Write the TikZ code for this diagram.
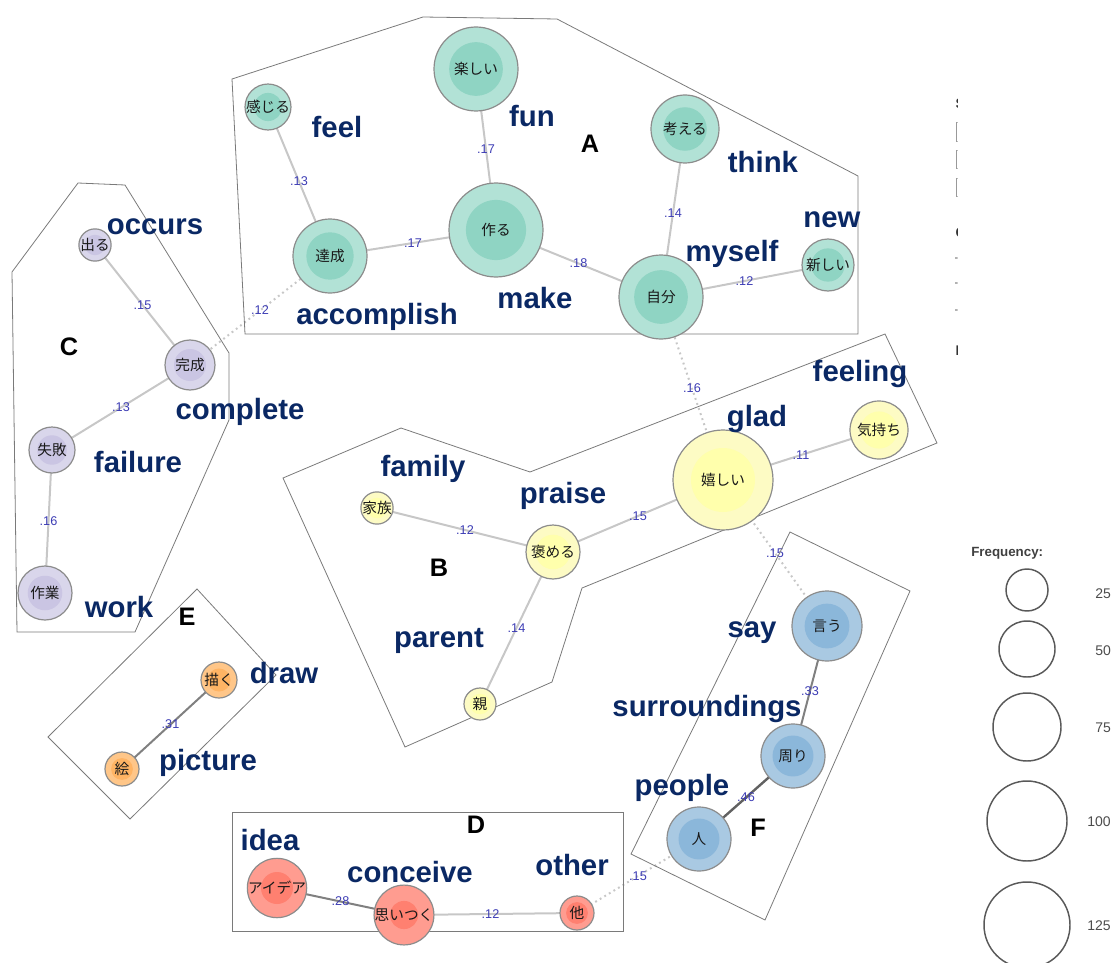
\documentclass[tikz,border=0pt]{standalone}
\usepackage{fontspec}
\setmainfont{Liberation Sans}
\newfontfamily\jpfont{Noto Sans CJK JP}
\usepackage{tikz}
\usetikzlibrary{backgrounds}

\definecolor{aout}{HTML}{B2E2D6}
\definecolor{ain}{HTML}{8FD4C3}
\definecolor{bout}{HTML}{FDFBC4}
\definecolor{bin}{HTML}{FFFFAC}
\definecolor{cout}{HTML}{D9D6EB}
\definecolor{cin}{HTML}{CAC5E3}
\definecolor{dout}{HTML}{FF9C90}
\definecolor{din}{HTML}{FF8070}
\definecolor{eout}{HTML}{FFC688}
\definecolor{ein}{HTML}{FFB464}
\definecolor{fout}{HTML}{A9C9E2}
\definecolor{fin}{HTML}{8BB7DA}
\definecolor{ring}{HTML}{8C8C8C}
\definecolor{navy}{HTML}{0A2864}
\definecolor{wtblue}{HTML}{3C3CB4}
\definecolor{hullgray}{HTML}{7A7A7A}

\tikzset{
  bubble/.style n args={3}{circle, draw=ring, line width=0.9pt, inner sep=0pt,
    fill=#1, minimum size=1.5*#3pt, text=black!90,
    font=\jpfont\fontsize{11}{13}\selectfont,
    path picture={\fill[#2] (path picture bounding box.center) circle [radius=0.48*#3pt];}},
  clA/.style={bubble={aout}{ain}{#1}},
  clB/.style={bubble={bout}{bin}{#1}},
  clC/.style={bubble={cout}{cin}{#1}},
  clD/.style={bubble={dout}{din}{#1}},
  clE/.style={bubble={eout}{ein}{#1}},
  clF/.style={bubble={fout}{fin}{#1}},
  gloss/.style={font=\bfseries\fontsize{22}{24}\selectfont, text=navy, inner sep=0pt},
  grp/.style={font=\bfseries\fontsize{19}{21}\selectfont, inner sep=0pt},
  wt/.style={font=\fontsize{9.5}{11}\selectfont, text=wtblue, inner sep=0pt},
  wk/.style={draw=black!22, line width=1.5pt},
  st/.style={draw=black!50, line width=1.5pt},
  xlink/.style={draw=black!22, line width=1.5pt, dash pattern=on 1.4pt off 2.6pt},
  hull/.style={draw=hullgray, line width=0.6pt},
  legring/.style={circle, draw=black!65, line width=1.1pt, inner sep=0pt, minimum size=1.5*#1pt},
  legtext/.style={font=\fontsize{10.5}{12}\selectfont, text=black!70, inner sep=0pt}
}

\begin{document}
\begin{tikzpicture}[x=0.75pt, y=-0.75pt]
  \useasboundingbox (0,0) rectangle (1117,963);

  % subgraph hulls
  \draw[hull] (245,334) -- (232,79) -- (423,17) -- (557,19) -- (858,176) -- (858,334) -- cycle;
  \draw[hull] (283,478) -- (401,428) -- (530,472) -- (885,334) -- (937,443) -- (582,588)
              -- (552,682) -- (405,747) -- cycle;
  \draw[hull] (78,183) -- (125,185) -- (229,353) -- (229,420) -- (135,632) -- (17,632)
              -- (12,272) -- cycle;
  \draw[hull] (232,812) rectangle (623,931);
  \draw[hull] (197,589) -- (276,675) -- (130,819) -- (48,737) -- cycle;
  \draw[hull] (790,532) -- (910,591) -- (765,920) -- (631,854) -- cycle;

  % group A
  \node[clA=42] (tanoshii)  at (476,69)  {楽しい};
  \node[clA=22] (kanjiru)   at (268,107) {感じる};
  \node[clA=34] (kangaeru)  at (685,129) {考える};
  \node[clA=47] (tsukuru)   at (496,230) {作る};
  \node[clA=37] (tassei)    at (330,256) {達成};
  \node[clA=42] (jibun)     at (661,297) {自分};
  \node[clA=26] (atarashii) at (828,265) {新しい};
  % group C
  \node[clC=16] (deru)    at (95,245)  {出る};
  \node[clC=25] (kansei)  at (190,365) {完成};
  \node[clC=23] (shippai) at (52,450)  {失敗};
  \node[clC=27] (sagyou)  at (45,593)  {作業};
  % group B
  \node[clB=16] (kazoku)  at (377,508) {家族};
  \node[clB=27] (homeru)  at (553,552) {褒める};
  \node[clB=50] (ureshii) at (723,480) {嬉しい};
  \node[clB=29] (kimochi) at (879,430) {気持ち};
  \node[clB=16] (oya)     at (480,704) {親};
  % group D
  \node[clD=25] (aidea)     at (277,888) {アイデア};
  \node[clD=22] (omoitsuku) at (404,915) {思いつく};
  \node[clD=17] (hoka)      at (577,913) {他};
  % group E
  \node[clE=18] (kaku)  at (219,680) {描く};
  \node[clE=17] (kaiga) at (122,769) {絵};
  % group F
  \node[clF=35] (iu)     at (827,626) {言う};
  \node[clF=32] (mawari) at (793,756) {周り};
  \node[clF=32] (hito)   at (699,839) {人};

  \begin{pgfonlayer}{background}
    \path (kanjiru.center) edge[wk] node[wt] {.13} (tassei.center)
          (tanoshii.center) edge[wk] node[wt] {.17} (tsukuru.center)
          (tassei.center) edge[wk] node[wt] {.17} (tsukuru.center)
          (tsukuru.center) edge[wk] node[wt] {.18} (jibun.center)
          (kangaeru.center) edge[wk] node[wt] {.14} (jibun.center)
          (jibun.center) edge[wk] node[wt] {.12} (atarashii.center)
          (deru.center) edge[wk] node[wt] {.15} (kansei.center)
          (kansei.center) edge[wk] node[wt] {.13} (shippai.center)
          (shippai.center) edge[wk] node[wt] {.16} (sagyou.center)
          (kazoku.center) edge[wk] node[wt] {.12} (homeru.center)
          (homeru.center) edge[wk] node[wt] {.15} (ureshii.center)
          (ureshii.center) edge[wk] node[wt] {.11} (kimochi.center)
          (homeru.center) edge[wk] node[wt] {.14} (oya.center)
          (aidea.center) edge[st] node[wt] {.28} (omoitsuku.center)
          (omoitsuku.center) edge[wk] node[wt] {.12} (hoka.center)
          (kaku.center) edge[st] node[wt] {.31} (kaiga.center)
          (iu.center) edge[st] node[wt] {.33} (mawari.center)
          (mawari.center) edge[st, draw=black!62, line width=1.8pt] node[wt] {.46} (hito.center);
    % links between groups
    \path (tassei.center) edge[xlink] node[wt] {.12} (kansei.center)
          (jibun.center) edge[xlink] node[wt] {.16} (ureshii.center)
          (ureshii.center) edge[xlink] node[wt] {.15} (iu.center)
          (hoka.center) edge[xlink] node[wt] {.15} (hito.center);
  \end{pgfonlayer}

  % glosses
  \node[gloss] (gfeel)   at (337,127) {feel};
  \node[gloss] (gfun)    at (532,116) {fun};
  \node[gloss] (gthink)  at (763,162) {think};
  \node[gloss] (gnew)    at (832,220) {new};
  \node[gloss] (gmyself) at (732,254) {myself};
  \node[gloss] (gaccomp) at (377,317) {accomplish};
  \node[gloss] (gmake)   at (535,298) {make};
  \node[gloss] (goccurs) at (155,227) {occurs};
  \node[gloss] (gcompl)  at (240,412) {complete};
  \node[gloss] (gfail)   at (138,462) {failure};
  \node[gloss] (gwork)   at (119,607) {work};
  \node[gloss] (gfamily) at (423,469) {family};
  \node[gloss] (gpraise) at (563,496) {praise};
  \node[gloss] (gparent) at (439,641) {parent};
  \node[gloss] (gglad)   at (757,419) {glad};
  \node[gloss] (gfeelg)  at (860,374) {feeling};
  \node[gloss] (gidea)   at (270,840) {idea};
  \node[gloss] (gconc)   at (410,872) {conceive};
  \node[gloss] (gother)  at (572,865) {other};
  \node[gloss] (gdraw)   at (284,673) {draw};
  \node[gloss] (gpict)   at (208,763) {picture};
  \node[gloss] (gsay)    at (752,633) {say};
  \node[gloss] (gsurr)   at (707,709) {surroundings};
  \node[gloss] (gpeople) at (682,788) {people};

  % group letters
  \node[grp] (lA) at (590,144) {A};
  \node[grp] (lB) at (439,568) {B};
  \node[grp] (lC) at (69,347)  {C};
  \node[grp] (lD) at (476,825) {D};
  \node[grp] (lE) at (187,617) {E};
  \node[grp] (lF) at (758,828) {F};

  % legend cut off at the right of the plot
  \begin{scope}
    \clip (940,90) rectangle (957.5,370);
    \node[anchor=west, font=\bfseries\fontsize{10.5}{12}\selectfont, text=black!80] (subg) at (951,105) {Subgraph:};
    \draw[black!40] (956,122) rectangle (990,141) (956,150) rectangle (990,168) (956,178) rectangle (990,196);
    \node[anchor=west, font=\bfseries\fontsize{10.5}{12}\selectfont, text=black!80] (coef) at (951,232) {Coefficient:};
    \draw[black!30, line width=1pt] (955,258) -- (990,258) (955,283) -- (990,283) (955,310) -- (990,310);
    \node[anchor=west, font=\bfseries\fontsize{10.5}{12}\selectfont, text=black!80] (freq0) at (951,352) {Frequency:};
  \end{scope}

  % frequency legend
  \node[anchor=west, font=\bfseries\fontsize{10}{12}\selectfont, text=black!75, inner sep=0pt] (freq) at (971,553) {Frequency:};
  \node[legring=21] (r25)  at (1027,590) {};
  \node[legring=28] (r50)  at (1027,649) {};
  \node[legring=34] (r75)  at (1027,727) {};
  \node[legring=40] (r100) at (1027,821) {};
  \node[legring=43] (r125) at (1027,925) {};
  \node[legtext, anchor=west] (n25)  at (1095,594) {25};
  \node[legtext, anchor=west] (n50)  at (1095,651) {50};
  \node[legtext, anchor=west] (n75)  at (1095,728) {75};
  \node[legtext, anchor=west] (n100) at (1087,822) {100};
  \node[legtext, anchor=west] (n125) at (1087,926) {125};
\end{tikzpicture}
\end{document}
